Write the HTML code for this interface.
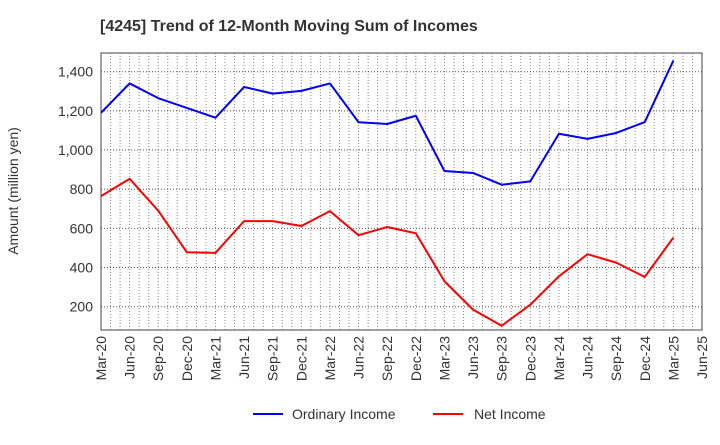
<!DOCTYPE html>
<html><head><meta charset="utf-8"><style>
body{margin:0;background:#fff;font-family:"Liberation Sans",sans-serif}
</style></head><body>
<svg id="c" width="720" height="440" xmlns="http://www.w3.org/2000/svg" font-family="Liberation Sans, sans-serif">
<text x="100" y="31" font-size="16" font-weight="bold" fill="#333">[4245]  Trend of 12-Month Moving Sum of Incomes</text>
<text transform="translate(18,191) rotate(-90)" text-anchor="middle" font-size="14" fill="#333">Amount (million yen)</text>
<g id="grid"></g><g id="axes"></g><g id="series"></g>
<g>
<line x1="253" y1="414" x2="283" y2="414" stroke="#0000ff" stroke-width="2"/>
<text x="292" y="419" font-size="14" fill="#333">Ordinary Income</text>
<line x1="433" y1="414" x2="463" y2="414" stroke="#ff0000" stroke-width="2"/>
<text x="474" y="419" font-size="14" fill="#333">Net Income</text>
</g>
</svg>
<script>
const categories=["Mar-20","Jun-20","Sep-20","Dec-20","Mar-21","Jun-21","Sep-21","Dec-21","Mar-22","Jun-22","Sep-22","Dec-22","Mar-23","Jun-23","Sep-23","Dec-23","Mar-24","Jun-24","Sep-24","Dec-24","Mar-25","Jun-25"];
const ordinaryIncome=[1190,1340,1265,1215,1165,1322,1288,1302,1340,1142,1133,1175,893,883,823,840,1083,1057,1087,1143,1457];
const netIncome=[765,853,690,478,475,637,637,612,688,565,607,575,330,185,103,210,355,468,425,352,553];
const yTicks=[200,400,600,800,1000,1200,1400];
const NS="http://www.w3.org/2000/svg";
const L=101,R=702,T=53,B=330;
const x=i=>L+(R-L)*i/(categories.length-1);
const y=v=>306.7-(v-200)*(306.7-71.7)/1200;
function mk(t,a,p){const e=document.createElementNS(NS,t);for(const k in a)e.setAttribute(k,a[k]);p.appendChild(e);return e;}
const g=document.getElementById('grid'),ax=document.getElementById('axes'),s=document.getElementById('series');
for(let m=1;m<(categories.length-1)*3;m++){const xx=L+(R-L)*m/((categories.length-1)*3);
const ln=mk('line',{x1:xx,x2:xx,y1:T,y2:B,stroke:'#888','stroke-width':1,'stroke-dasharray':'1,2'},g);

}
yTicks.forEach(v=>{const ln=mk('line',{x1:L,x2:R,y1:y(v),y2:y(v),stroke:'#555','stroke-width':1,'stroke-dasharray':'1,2'},g);


const t=mk('text',{x:L-8,y:y(v)+5,'text-anchor':'end','font-size':14,fill:'#333'},ax);t.textContent=v.toLocaleString('en-US');

});
const fr=mk('rect',{x:L,y:T,width:R-L,height:B-T,fill:'none',stroke:'#444','stroke-width':1},ax);


categories.forEach((c,i)=>{const t=mk('text',{transform:`translate(${x(i)+5},${B+6}) rotate(-90)`,'text-anchor':'end','font-size':14,fill:'#333'},ax);t.textContent=c;

});
function line(d,col,name){const p=mk('polyline',{points:d.map((v,i)=>x(i)+','+y(v)).join(' '),fill:'none',stroke:col,'stroke-width':2,'stroke-linejoin':'round'},s);

}
line(ordinaryIncome,'#0000ff','ordinary-income-line');
line(netIncome,'#ff0000','net-income-line');
</script>
</body></html>
